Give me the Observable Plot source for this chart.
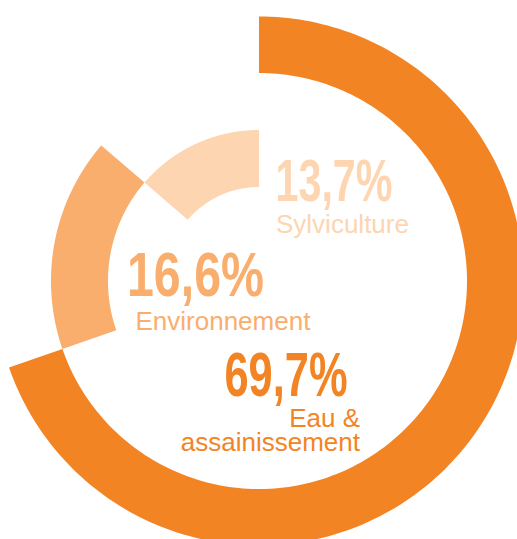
<!DOCTYPE html>
<html><head><meta charset="utf-8">
<script src="https://cdn.jsdelivr.net/npm/d3@7"></script>
<script src="https://cdn.jsdelivr.net/npm/@observablehq/plot@0.6"></script>
<style>
body{margin:0;background:#fff;}
#chart svg{display:block;}
</style></head><body><div id="chart"></div>
<script>
// ---- data ----
const categories = ["Eau & assainissement", "Environnement", "Sylviculture"];
const shares = [69.7, 16.6, 13.7];
const pctLabels = ["69,7%", "16,6%", "13,7%"];
const nameLabels = ["Eau &\nassainissement", "Environnement", "Sylviculture"];

// ---- style / layout ----
const colors = ["#F38424", "#F9AE6E", "#FDD5B0"];
const rings = [[208, 264.5], [151, 208], [94, 151]];
const pctLayout = [
  {dx: 88, dy: 114, anchor: "end", size: 63, len: 123},
  {dx: -132.5, dy: 14, anchor: "start", size: 63.5, len: 137},
  {dx: 16, dy: -81, anchor: "start", size: 59, len: 117}
];
const nameLayout = [
  {dx: 100.5, dy: 169, anchor: "end"},
  {dx: -124, dy: 48.3, anchor: "start"},
  {dx: 16.5, dy: -48.7, anchor: "start"}
];

const arcRows = [];
let acc = 0;
shares.forEach((v, i) => {
  const a0 = acc / 100 * 2 * Math.PI, a1 = (acc + v) / 100 * 2 * Math.PI;
  const n = 200;
  for (let k = 0; k <= n; k++) {
    const a = a0 + (a1 - a0) * k / n;
    arcRows.push({
      cat: categories[i],
      xo: rings[i][1] * Math.sin(a), yo: rings[i][1] * Math.cos(a),
      xi: rings[i][0] * Math.sin(a), yi: rings[i][0] * Math.cos(a)
    });
  }
  acc += v;
});

const marks = [
  Plot.area(arcRows, {x1: "xo", y1: "yo", x2: "xi", y2: "yi", fill: "cat", z: "cat"})
];
categories.forEach((c, i) => {
  const p = pctLayout[i], nl = nameLayout[i];
  marks.push(Plot.text([pctLabels[i]], {
    x: 0, y: 0, text: d => d, dx: p.dx, dy: p.dy, textAnchor: p.anchor, lineAnchor: "bottom",
    fill: colors[i], fontSize: p.size, fontWeight: "bold",
    fontFamily: "'Liberation Sans', Arial, sans-serif"
  }));
  marks.push(Plot.text([nameLabels[i]], {
    x: 0, y: 0, text: d => d, dx: nl.dx, dy: nl.dy, textAnchor: nl.anchor, lineAnchor: "bottom",
    fill: colors[i], fontSize: 26, lineHeight: 0.92,
    fontFamily: "'Liberation Sans', Arial, sans-serif"
  }));
});

const chart = Plot.plot({
  width: 517, height: 539,
  margin: 0,
  x: {domain: [-259, 258], axis: null},
  y: {domain: [-258, 281], axis: null},
  color: {domain: categories, range: colors},
  style: {background: "#fff", overflow: "hidden"},
  marks
});
pctLayout.forEach((p, i) => {
  d3.select(chart).selectAll("text")
    .filter(function() { return this.textContent === pctLabels[i]; })
    .attr("textLength", p.len).attr("lengthAdjust", "spacingAndGlyphs");
});
document.getElementById("chart").appendChild(chart);
</script></body></html>
